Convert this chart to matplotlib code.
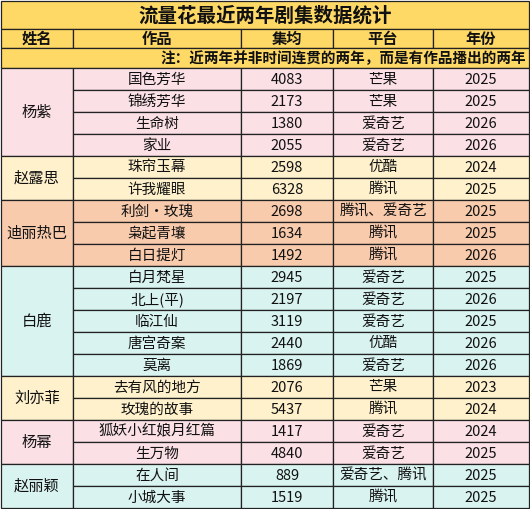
import matplotlib
matplotlib.use("Agg")
import matplotlib.pyplot as plt
from matplotlib.patches import Rectangle

plt.rcParams['font.family'] = ['Noto Sans CJK SC', 'DejaVu Sans']

title = "流量花最近两年剧集数据统计"
headers = ["姓名", "作品", "集均", "平台", "年份"]
note = "注：近两年并非时间连贯的两年，而是有作品播出的两年"
names = ["杨紫", "赵露思", "迪丽热巴", "白鹿", "刘亦菲", "杨幂", "赵丽颖"]
group_sizes = [4, 2, 3, 5, 2, 2, 2]
works = ["国色芳华", "锦绣芳华", "生命树", "家业", "珠帘玉幕", "许我耀眼", "利剑·玫瑰", "枭起青壤", "白日提灯",
         "白月梵星", "北上(平)", "临江仙", "唐宫奇案", "莫离", "去有风的地方", "玫瑰的故事",
         "狐妖小红娘月红篇", "生万物", "在人间", "小城大事"]
avg = [4083, 2173, 1380, 2055, 2598, 6328, 2698, 1634, 1492, 2945, 2197, 3119, 2440, 1869, 2076, 5437,
       1417, 4840, 889, 1519]
platform = ["芒果", "芒果", "爱奇艺", "爱奇艺", "优酷", "腾讯", "腾讯、爱奇艺", "腾讯", "腾讯",
            "爱奇艺", "爱奇艺", "爱奇艺", "优酷", "爱奇艺", "芒果", "腾讯", "爱奇艺", "爱奇艺", "爱奇艺、腾讯", "腾讯"]
years = [2025, 2025, 2026, 2026, 2024, 2025, 2025, 2025, 2026, 2025, 2026, 2025, 2026, 2026, 2023, 2024,
         2024, 2025, 2025, 2025]

group_colors = ["#fbe0e6", "#fff1cc", "#f8cbad", "#d9f4f0", "#fff1cc", "#fbe0e6", "#d9f4f0"]
gold = "#ffd966"
col_w = [72, 168, 92, 100, 96]
title_h, head_h, note_h, row_h = 29, 19, 20, 22

W, H = 530, 509
fig = plt.figure(figsize=(W / 100, H / 100), dpi=100)
ax = fig.add_axes([0, 0, 1, 1])
ax.set_xlim(0, W)
ax.set_ylim(H, 0)
ax.axis('off')
fig.patch.set_facecolor('white')

x0 = [1]
for w in col_w:
    x0.append(x0[-1] + w)
total_w = x0[-1] - x0[0]
lw = 0.9

def cell(x, y, w, h, fc, text, size=10.5, bold=False, ha='center'):
    ax.add_patch(Rectangle((x, y), w, h, facecolor=fc, edgecolor='#222222', lw=lw))
    tx = x + w / 2 if ha == 'center' else x + w - 3
    ax.text(tx, y + h / 2 + 0.5, text, ha=ha, va='center', fontsize=size,
            fontweight='bold' if bold else 'normal', color='#111111')

y = 1
cell(x0[0], y, total_w, title_h - 1, gold, title, size=14, bold=True)
y = title_h
for i, hd in enumerate(headers):
    cell(x0[i], y, col_w[i], head_h, gold, hd, size=11, bold=True)
y += head_h
cell(x0[0], y, total_w, note_h, gold, note, size=10.5, bold=True, ha='right')
y += note_h

r = 0
for g, (nm, n) in enumerate(zip(names, group_sizes)):
    fc = group_colors[g]
    cell(x0[0], y, col_w[0], n * row_h, fc, nm, size=11)
    for k in range(n):
        yy = y + k * row_h
        vals = [works[r], str(avg[r]), platform[r], str(years[r])]
        for c, v in enumerate(vals):
            cell(x0[c + 1], yy, col_w[c + 1], row_h, fc, v, size=10.5)
        r += 1
    y += n * row_h

fig.savefig("out.png", dpi=100)
